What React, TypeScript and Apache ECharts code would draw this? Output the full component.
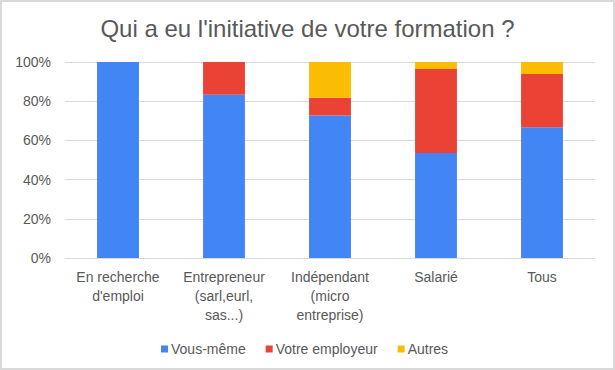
import React, { useEffect, useRef } from "react";
import * as echarts from "echarts";

const categories = [
  "En recherche\nd'emploi",
  "Entrepreneur\n(sarl,eurl,\nsas...)",
  "Indépendant\n(micro\nentreprise)",
  "Salarié",
  "Tous",
];
const vousMeme = [100, 83.3, 72.7, 53.6, 66.7];
const votreEmployeur = [0, 16.7, 9.1, 42.8, 27.2];
const autres = [0, 0, 18.2, 3.6, 6.1];
const yTicks = [0, 20, 40, 60, 80, 100];

const FONT = "'Liberation Sans', Arial, sans-serif";
const TEXT = "#595959";

export default function App() {
  const ref = useRef<HTMLDivElement>(null);
  useEffect(() => {
    if (!ref.current) return;
    const chart = echarts.init(ref.current, undefined, { renderer: "svg" });
    const mk = (name: string, data: number[], color: string) => ({
      name,
      type: "bar",
      stack: "total",
      data,
      barWidth: "39.5%",
      itemStyle: { color },
      emphasis: { disabled: true },
    });
    chart.setOption({
      animation: false,
      backgroundColor: "#ffffff",
      textStyle: { fontFamily: FONT },
      title: {
        text: "Qui a eu l'initiative de votre formation ?",
        left: "center",
        top: 11,
        textStyle: { fontFamily: FONT, fontSize: 24, fontWeight: "normal", color: TEXT },
      },
      graphic: [
        {
          type: "rect",
          shape: { x: 1, y: 1, width: 613, height: 368 },
          style: { fill: "none", stroke: "#d9d9d9", lineWidth: 2 },
          silent: true,
        },
      ],
      legend: {
        left: 156,
        top: 337,
        icon: "rect",
        itemWidth: 7,
        itemHeight: 7,
        itemGap: 20,
        textStyle: { fontFamily: FONT, fontSize: 14, color: TEXT, padding: [0, 0, 0, -2] },
        data: ["Vous-même", "Votre employeur", "Autres"],
      },
      grid: { left: 65, right: 20, top: 62, bottom: 112, containLabel: false },
      xAxis: {
        type: "category",
        data: categories,
        axisLine: { show: true, lineStyle: { color: "#d9d9d9" } },
        axisTick: { show: false },
        axisLabel: {
          fontFamily: FONT,
          fontSize: 14,
          color: TEXT,
          lineHeight: 19,
          margin: 9,
          interval: 0,
        },
      },
      yAxis: {
        type: "value",
        min: yTicks[0],
        max: yTicks[yTicks.length - 1],
        interval: 20,
        axisLine: { show: false },
        axisTick: { show: false },
        splitLine: { lineStyle: { color: "#d9d9d9", width: 1 } },
        axisLabel: {
          fontFamily: FONT,
          fontSize: 14,
          color: TEXT,
          margin: 14,
          formatter: "{value}%",
        },
      },
      series: [
        mk("Vous-même", vousMeme, "#4285F4"),
        mk("Votre employeur", votreEmployeur, "#EA4335"),
        mk("Autres", autres, "#FBBC04"),
      ],
    });
    return () => chart.dispose();
  }, []);
  return (
    <div
      ref={ref}
      style={{ position: "fixed", left: 0, top: 0, width: 615, height: 370 }}
    />
  );
}
